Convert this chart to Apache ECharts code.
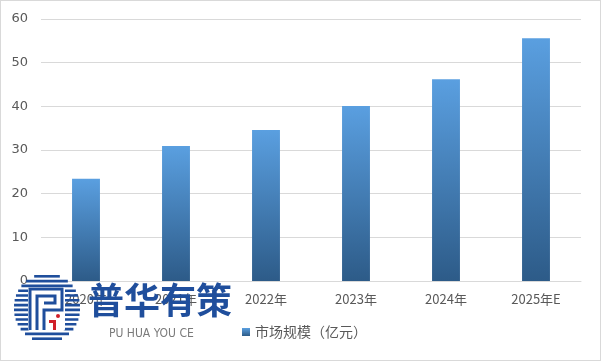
<!DOCTYPE html>
<html><head><meta charset="utf-8">
<script src="https://cdn.jsdelivr.net/npm/echarts@6/dist/echarts.min.js"></script>
<style>html,body{margin:0;padding:0;background:#fff}#c{width:599px;height:359px;border:1px solid #d9d9d9}</style>
</head><body><div id="c"></div>
<script>
const categories = ['2020年','2021年','2022年','2023年','2024年','2025年E'];
const marketSize = [23.4, 30.9, 34.6, 40.1, 46.2, 55.6];
const yTicks = [0, 60, 10];
const seriesName = '市场规模（亿元）';

const chart = echarts.init(document.getElementById('c'));
const grad = new echarts.graphic.LinearGradient(0,0,0,1,[{offset:0,color:'#5a9fe0'},{offset:1,color:'#2d5b88'}]);

// watermark logo
const logo = [];
const cx = 46, cy = 307, r = 33;
for (let i = 0; i < 14; i++) {
  const y0 = cy - r + i*4.8;
  const dy = Math.min(Math.abs(y0 - cy), Math.abs(y0 + 2.6 - cy));
  const hw = Math.sqrt(Math.max(0, r*r - dy*dy));
  logo.push({type:'rect', shape:{x:cx-hw, y:y0, width:hw*2, height:2.6}, style:{fill:'#1f4e9c'}, z:100});
}
logo.push({type:'rect', shape:{x:cx-19, y:cy-21, width:37, height:44, r:2}, style:{fill:'#fff'}, z:101});
logo.push({type:'polyline', shape:{points:[[cx-17,cy+22],[cx-17,cy-19],[cx+15,cy-19],[cx+15,cy+2],[cx-3,cy+2],[cx-3,cy+22]]}, style:{stroke:'#1f4e9c', lineWidth:3, fill:null}, z:102});
logo.push({type:'polyline', shape:{points:[[cx-10,cy+22],[cx-10,cy-12],[cx+8,cy-12],[cx+8,cy-5],[cx-3,cy-5]]}, style:{stroke:'#1f4e9c', lineWidth:3, fill:null}, z:102});
logo.push({type:'rect', shape:{x:cx+6, y:cy+12, width:3, height:10}, style:{fill:'#d0202a'}, z:102});
logo.push({type:'rect', shape:{x:cx+2, y:cy+12, width:5, height:3}, style:{fill:'#d0202a'}, z:102});
logo.push({type:'circle', shape:{cx:cx+11, cy:cy+8, r:2}, style:{fill:'#d0202a'}, z:102});
logo.push({type:'text', left:87, top:281, style:{text:'普华有策', fill:'#1f4e9c', font:'bold 36px "Noto Sans CJK SC"'}, z:100});
logo.push({type:'text', left:108, top:327, style:{text:'PU HUA YOU CE', fill:'#7a7a7a', font:'12px "DejaVu Sans Condensed"'}, z:100});

chart.setOption({
  animation:false,
  grid:{left:40, right:19, top:18, bottom:79, containLabel:false},
  legend:{bottom:16, left:236, itemWidth:8, itemHeight:8, itemGap:4, icon:'rect',
    textStyle:{color:'#595959', fontSize:14, fontFamily:'"Noto Sans CJK SC"'},
    data:[{name:seriesName, itemStyle:{color:grad}}]},
  xAxis:{type:'category', data:categories,
    axisLine:{lineStyle:{color:'#d9d9d9'}}, axisTick:{show:false},
    axisLabel:{color:'#595959', fontSize:13, margin:12, fontFamily:'"Noto Sans CJK SC"'}},
  yAxis:{type:'value', min:yTicks[0], max:yTicks[1], interval:yTicks[2],
    axisLine:{show:false}, axisTick:{show:false},
    splitLine:{lineStyle:{color:'#d9d9d9'}},
    axisLabel:{color:'#595959', fontSize:13, margin:13, fontFamily:'"DejaVu Sans"'}},
  series:[{name:seriesName, type:'bar', data:marketSize, barWidth:'31%', itemStyle:{color:grad}}],
  graphic: logo
});
</script></body></html>
